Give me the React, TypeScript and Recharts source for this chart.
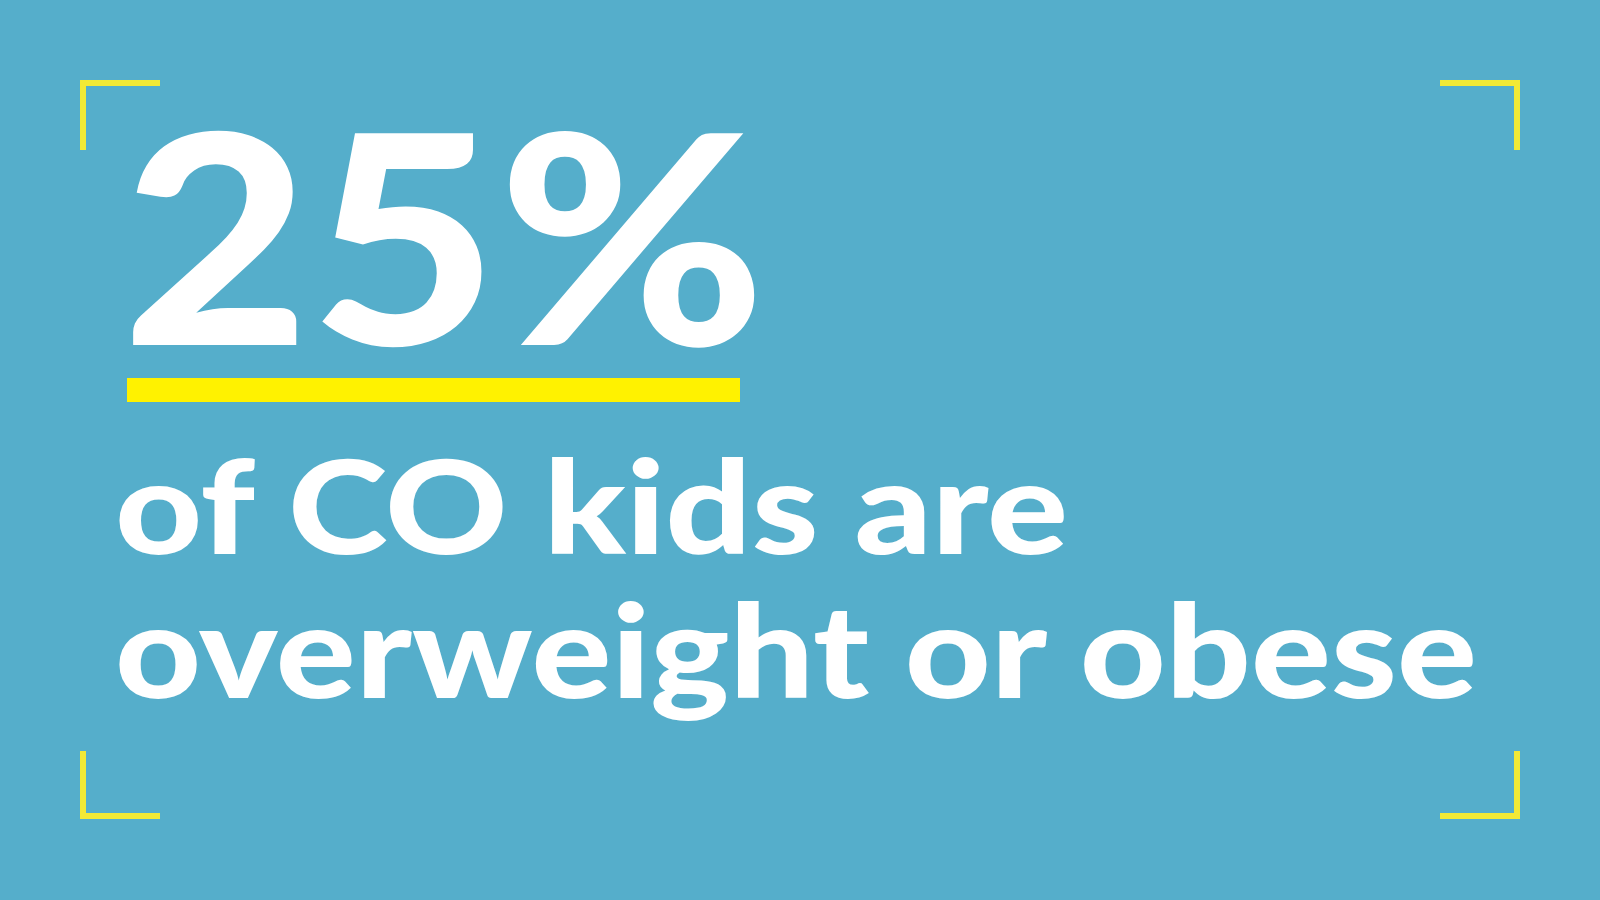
import React from 'react';
import { ComposedChart, XAxis, YAxis, ReferenceArea, Customized } from 'recharts';

const statValues = [25];
const statUnits = ['%'];
const captionLines = ['of CO kids are', 'overweight or obese'];

const W = 1600;
const H = 900;
const BG = '#55AECB';
const YELLOW = '#FFF200';
const BRACKET = '#F3E935';
const FONT = 'Lato, "Open Sans", "DejaVu Sans", sans-serif';

const brackets = [
  { x1: 80, x2: 160, y1: 80, y2: 86 },
  { x1: 80, x2: 86, y1: 80, y2: 150 },
  { x1: 1440, x2: 1520, y1: 80, y2: 86 },
  { x1: 1514, x2: 1520, y1: 80, y2: 150 },
  { x1: 80, x2: 86, y1: 751, y2: 819 },
  { x1: 80, x2: 160, y1: 813, y2: 819 },
  { x1: 1514, x2: 1520, y1: 751, y2: 819 },
  { x1: 1440, x2: 1520, y1: 813, y2: 819 },
];

const Texts = () => (
  <g>
    <text
      x={122}
      y={345}
      fill="#FFFFFF"
      fontFamily={FONT}
      fontWeight={900}
      fontSize={292}
      textLength={644}
      lengthAdjust="spacingAndGlyphs"
    >
      {`${statValues[0]}${statUnits[0]}`}
    </text>
    <text
      x={115}
      y={554}
      fill="#FFFFFF"
      fontFamily={FONT}
      fontWeight={900}
      fontSize={130}
      textLength={953}
      lengthAdjust="spacingAndGlyphs"
    >
      {captionLines[0]}
    </text>
    <text
      x={115}
      y={698}
      fill="#FFFFFF"
      fontFamily={FONT}
      fontWeight={900}
      fontSize={130}
      textLength={1362}
      lengthAdjust="spacingAndGlyphs"
    >
      {captionLines[1]}
    </text>
  </g>
);

export default function App() {
  return (
    <div style={{ position: 'absolute', left: 0, top: 0, width: W, height: H, background: BG }}>
      <ComposedChart width={W} height={H} data={[{ x: 0, y: 0 }]} margin={{ top: 0, right: 0, bottom: 0, left: 0 }}>
        <XAxis type="number" dataKey="x" domain={[0, W]} hide allowDataOverflow />
        <YAxis type="number" dataKey="y" domain={[0, H]} reversed hide allowDataOverflow />
        {brackets.map((b, i) => (
          <ReferenceArea key={i} x1={b.x1} x2={b.x2} y1={b.y1} y2={b.y2} fill={BRACKET} fillOpacity={1} stroke="none" ifOverflow="visible" />
        ))}
        <ReferenceArea x1={127} x2={740} y1={378} y2={402} fill={YELLOW} fillOpacity={1} stroke="none" ifOverflow="visible" />
        <Customized component={<Texts />} />
      </ComposedChart>
    </div>
  );
}
